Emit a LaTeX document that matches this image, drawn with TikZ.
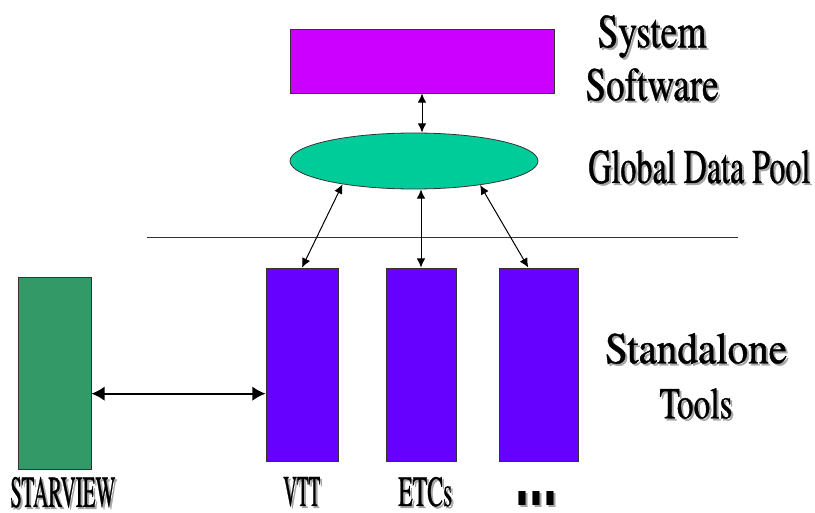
\documentclass[tikz,border=0pt]{standalone}
\usepackage{fontspec}
\setmainfont{Liberation Serif}
\newfontfamily\lblfont[FakeBold=1]{texgyretermes-regular.otf}
\newfontfamily\dotfont{Liberation Sans}
\usepackage{graphicx}
\usetikzlibrary{shapes.geometric, arrows.meta, positioning}

\definecolor{sysmag}{HTML}{CC00FF}
\definecolor{poolgreen}{HTML}{00CC99}
\definecolor{toolblue}{HTML}{6600FF}
\definecolor{stargreen}{HTML}{339966}

% text with a grey drop shadow, squeezed to width #1 and height #2
\newcommand{\shtext}[3]{\rlap{\kern1.5pt\raisebox{-1.5pt}{\color{black!35}\resizebox{#1}{#2}{\lblfont #3}}}\resizebox{#1}{#2}{\lblfont #3}}

\begin{document}
\begin{tikzpicture}[x=0.75pt, y=-0.75pt]
\tikzstyle{box} = [rectangle, draw = black!80, line width = 0.6pt, inner sep = 0pt]
\tikzstyle{pool} = [ellipse, draw = black!80, line width = 0.6pt, fill = poolgreen, inner sep = 0pt, minimum width = 186pt, minimum height = 42pt]
\tikzstyle{link} = [{Latex[length=7pt,width=6.5pt]}-{Latex[length=7pt,width=6.5pt]}, line width = 0.75pt]
\tikzstyle{biglink} = [{Latex[length=10pt,width=11pt]}-{Latex[length=10pt,width=11pt]}, line width = 1.5pt]
\tikzstyle{lbl} = [inner sep = 0pt, anchor = base west]
\useasboundingbox (0,0) rectangle (815,513);
  \node[box, fill = sysmag, minimum width = 198pt, minimum height = 48pt] (sys) at (422,61) {};
  \node[pool] (gdp) at (414,161) {};
  \node[box, fill = stargreen, minimum width = 54.75pt, minimum height = 144pt] (star) at (54.5,373) {};
  \node[box, fill = toolblue, minimum width = 54pt, minimum height = 144.75pt] (vtt) at (302,364.5) {};
  \node[box, fill = toolblue, minimum width = 52.5pt, minimum height = 144.75pt] (etcs) at (421,364.5) {};
  \node[box, fill = toolblue, minimum width = 59.25pt, minimum height = 144.75pt] (more) at (538.5,364.5) {};
  \coordinate (divl) at (147,237);
  \coordinate (divr) at (738,237);
\draw[line width = 0.6pt, black!80] (divl) -- (divr);
\draw[link] (sys.south) -- (sys.south |- gdp.north);
\draw[link] (gdp.198) -- (vtt.north);
\draw[link] (etcs.north |- gdp.south) -- (etcs.north);
\draw[link] (gdp.340) -- (more.96);
\draw[biglink] ([yshift=-15.5pt]star.east) -- ([yshift=-15.5pt]star.east -| vtt.west);
  % labels
  \node[inner sep = 0pt, anchor = north, align = center, font = \fontsize{12}{39.75}\selectfont] (syslbl) at (652,15)
    {\shtext{81.75pt}{24pt}{System}\\ \shtext{99.75pt}{24pt}{Software}};
  \node[lbl] (gdplbl) at (588,183) {\shtext{166.5pt}{24.75pt}{Global Data Pool}};
  \node[inner sep = 0pt, anchor = north, align = center, font = \fontsize{12}{41.25}\selectfont] (toollbl) at (696,333)
    {\shtext{136.5pt}{22.5pt}{Standalone}\\ \shtext{54.75pt}{22.5pt}{Tools}};
  \node[lbl] (starlbl) at (10,507) {\shtext{78.75pt}{22.5pt}{STARVIEW}};
  \node[lbl] (vttlbl) at (283,506) {\shtext{27.75pt}{21.75pt}{VTT}};
  \node[lbl] (etcslbl) at (398,506) {\shtext{40.5pt}{21.75pt}{ETCs}};
  \node[lbl] (morelbl) at (515,506) {\shtext{31.5pt}{10.5pt}{\dotfont\bfseries ...}};
\end{tikzpicture}
\end{document}
